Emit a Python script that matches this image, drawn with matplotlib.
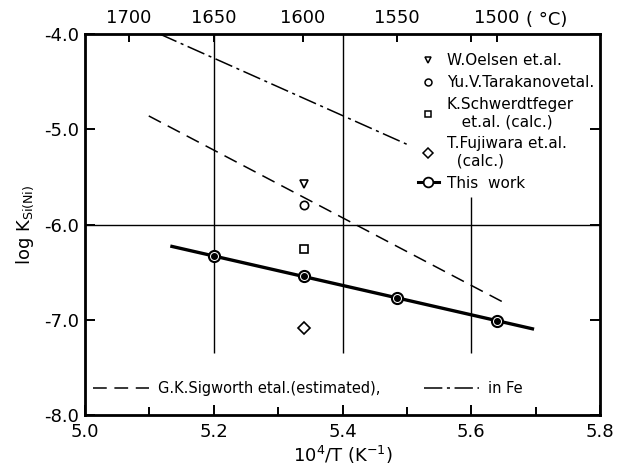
import matplotlib
matplotlib.use("Agg")
import matplotlib.pyplot as plt
from matplotlib.lines import Line2D
import numpy as np

plt.rcParams['font.family'] = ['DejaVu Sans']

# ---- data ----
oelsen_x = [5.34];   oelsen_y = [-5.57]
tarak_x = [5.34];    tarak_y = [-5.79]
schw_x = [5.34];     schw_y = [-6.26]
fuji_x = [5.34];     fuji_y = [-7.09]

work_x = [5.20, 5.34, 5.485, 5.64]
work_y = [-6.33, -6.54, -6.77, -7.01]
fit_x = [5.135, 5.695]
fit_y = [-6.23, -7.095]

sig_ni_x = [5.099, 5.648]
sig_ni_y = [-4.86, -6.81]
sig_fe_x = [5.116, 5.504]
sig_fe_y = [-4.00, -5.17]

temps_C = [1700, 1650, 1600, 1550, 1500]
temp_labels = ['1700', '1650', '1600', '1550', '1500']
grid_x = [5.2, 5.4, 5.6]
grid_top = [-4.0, -4.0, -5.71]
grid_bottom = -7.35

fig = plt.figure(figsize=(6.22, 4.75), dpi=100)
ax = fig.add_axes([0.1367, 0.1263, 0.828, 0.8021])
ax.set_xlim(5.0, 5.8)
ax.set_ylim(-8.0, -4.0)

# reference lines
for gx, gt in zip(grid_x, grid_top):
    ax.vlines(gx, grid_bottom, gt, color='black', lw=1.0, zorder=1)
ax.axhline(-6.0, color='black', lw=1.0, zorder=1)

# Sigworth lines
ax.plot(sig_ni_x, sig_ni_y, color='black', lw=1.1, dashes=(9, 5), zorder=2)
ax.plot(sig_fe_x, sig_fe_y, color='black', lw=1.1, dashes=(12, 3, 2, 3), zorder=2)

# literature points
ax.plot(oelsen_x, oelsen_y, linestyle='none', marker='v', ms=6, mfc='white', mec='black', mew=1.2, zorder=3)
ax.plot(tarak_x, tarak_y, linestyle='none', marker='o', ms=6, mfc='white', mec='black', mew=1.2, zorder=3)
ax.plot(schw_x, schw_y, linestyle='none', marker='s', ms=6, mfc='white', mec='black', mew=1.2, zorder=3)
ax.plot(fuji_x, fuji_y, linestyle='none', marker='D', ms=6, mfc='white', mec='black', mew=1.2, zorder=3)

# this work
ax.plot(fit_x, fit_y, color='black', lw=2.4, zorder=3)
ax.plot(work_x, work_y, linestyle='none', marker='o', ms=8, mfc='white', mec='black', mew=1.5, zorder=4)
ax.plot(work_x, work_y, linestyle='none', marker='o', ms=4, mfc='black', mec='black', zorder=5)

# ticks
ax.set_xticks(np.arange(5.0, 5.81, 0.2))
ax.set_xticklabels(['5.0', '5.2', '5.4', '5.6', '5.8'])
ax.set_xticks(np.arange(5.1, 5.8, 0.2), minor=True)
ax.set_yticks([-8, -7, -6, -5, -4])
ax.set_yticklabels(['-8.0', '-7.0', '-6.0', '-5.0', '-4.0'])
ax.tick_params(axis='both', which='both', direction='in', labelsize=13, width=1.4)
ax.tick_params(axis='x', which='major', length=7, pad=6)
ax.tick_params(axis='x', which='minor', length=6)
ax.tick_params(axis='y', which='major', length=7, right=True, pad=4)
for s in ax.spines.values():
    s.set_linewidth(2.0)

ax.set_xlabel(r'10$^4$/T (K$^{-1}$)', fontsize=13, labelpad=2)
ax.set_ylabel(r'log K$_{\mathrm{Si(Ni)}}$', fontsize=13, labelpad=6)

# top temperature axis
top = ax.twiny()
top.set_xlim(ax.get_xlim())
top_pos = [1e4 / (t + 273.15) for t in temps_C]
top.set_xticks(top_pos)
top.set_xticklabels(temp_labels)
top.set_xticks([5.6], minor=True)
top.tick_params(axis='x', which='both', direction='in', length=6, width=1.4, labelsize=13, pad=5)
top.text(5.685, 1.012, '( °C)', transform=top.get_xaxis_transform(),
         fontsize=13, ha='left', va='bottom')

# legend (upper right)
h = [
    Line2D([], [], linestyle='none', marker='v', ms=5, mfc='white', mec='black', mew=1.1),
    Line2D([], [], linestyle='none', marker='o', ms=5, mfc='white', mec='black', mew=1.1),
    Line2D([], [], linestyle='none', marker='s', ms=5, mfc='white', mec='black', mew=1.1),
    Line2D([], [], linestyle='none', marker='D', ms=5, mfc='white', mec='black', mew=1.1),
    Line2D([], [], color='black', lw=2.2, marker='o', ms=7, mfc='white', mec='black', mew=1.3),
]
labels = ['W.Oelsen et.al.', 'Yu.V.Tarakanovetal.', 'K.Schwerdtfeger\n   et.al. (calc.)',
          'T.Fujiwara et.al.\n  (calc.)', 'This  work']
leg = ax.legend(h, labels, loc='upper right', bbox_to_anchor=(1.0, 0.965), frameon=False,
                fontsize=11, handlelength=1.4, handletextpad=0.5, labelspacing=0.45,
                borderaxespad=0.0)
ax.add_artist(leg)

# legend (bottom)
h2 = [Line2D([], [], color='black', lw=1.1, dashes=(9, 5)),
      Line2D([], [], color='black', lw=1.1, dashes=(12, 3, 2, 3))]
ax.legend(h2, ['G.K.Sigworth etal.(estimated),', 'in Fe'], loc='lower left',
          bbox_to_anchor=(0.005, 0.035), ncol=2, frameon=False, fontsize=10.5,
          handlelength=3.8, handletextpad=0.6, columnspacing=3.0, borderaxespad=0.0)

fig.savefig('out.png', dpi=100)
